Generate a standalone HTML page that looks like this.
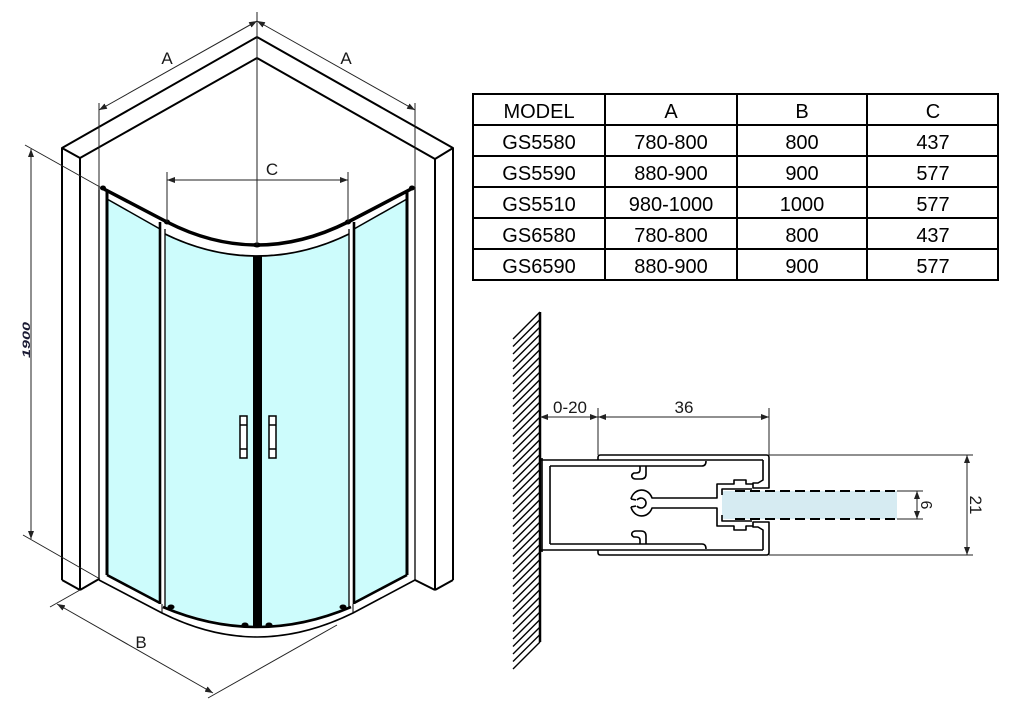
<!DOCTYPE html>
<html><head><meta charset="utf-8">
<style>
html,body{margin:0;padding:0;background:#fff;}
body{width:1024px;height:713px;overflow:hidden;position:relative;}
svg{position:absolute;left:0;top:0;}
text{font-family:"Liberation Sans",sans-serif;}
</style></head>
<body>
<svg width="1024" height="713" viewBox="0 0 1024 713" xmlns="http://www.w3.org/2000/svg">
<defs>
<marker id="ar" viewBox="0 0 8 6" refX="8" refY="3" markerWidth="8" markerHeight="6" markerUnits="userSpaceOnUse" orient="auto-start-reverse">
<path d="M0,0 L8,3 L0,6 z" fill="#222"/>
</marker>
</defs>
<rect width="1024" height="713" fill="#fff"/>

<!-- ===== Shower glass fills ===== -->
<g fill="#cdfcfc" stroke="none">
<polygon points="107,198 160,228 160,603 107,575"/>
<path d="M165,234 Q210,256 253,257 L253,626 Q210,624 165,607 Z"/>
<path d="M262,257 Q305,256 349,234 L349,607 Q305,624 262,626 Z"/>
<polygon points="354,228 407,198 407,575 354,603"/>
</g>

<!-- ===== Walls ===== -->
<g stroke="#000" stroke-width="2" fill="none" stroke-linejoin="round">
<polyline points="62,580 62,148 257,37 453,148 453,580"/>
<polyline points="80,590 80,158 257,58 435,159 435,590"/>
<line x1="62" y1="148" x2="80" y2="158"/>
<line x1="453" y1="148" x2="435" y2="159"/>
<line x1="62" y1="580" x2="80" y2="590"/>
<line x1="453" y1="580" x2="435" y2="590"/>
<line x1="80" y1="590" x2="99" y2="579"/>
<line x1="435" y1="590" x2="415" y2="580"/>
</g>

<!-- ===== Shower frame ===== -->
<g stroke="#000" fill="none" stroke-linejoin="round">
<path d="M102,188 L167,222 Q212,245 257,245 Q302,245 348,222 L413,188" stroke-width="3.5"/>
<path d="M107,199 L160,229" stroke-width="1.5"/>
<path d="M354,229 L407,199" stroke-width="1.5"/>
<path d="M165,234 Q210,256 257,256 Q304,256 349,234" stroke-width="1.8"/>
<line x1="99" y1="187" x2="99" y2="580" stroke-width="1.3"/>
<line x1="107" y1="190" x2="107" y2="575" stroke-width="3"/>
<line x1="160" y1="222" x2="160" y2="604" stroke-width="2.6"/>
<line x1="165" y1="229" x2="165" y2="607" stroke-width="1.3"/>
<line x1="349" y1="229" x2="349" y2="607" stroke-width="1.3"/>
<line x1="354" y1="222" x2="354" y2="604" stroke-width="2.6"/>
<line x1="407" y1="190" x2="407" y2="575" stroke-width="3"/>
<line x1="415" y1="187" x2="415" y2="580" stroke-width="1.3"/>
<path d="M107,575 L160,603" stroke-width="2.6"/>
<path d="M354,603 L407,575" stroke-width="2.6"/>
<path d="M163,607 Q210,627 257,627 Q304,627 351,607" stroke-width="2.6"/>
<path d="M99,580 L162,613 Q210,637 257,637 Q304,637 353,613 L415,580" stroke-width="1.6"/>
<line x1="162" y1="604" x2="162" y2="613" stroke-width="1"/>
<line x1="353" y1="604" x2="353" y2="613" stroke-width="1"/>
</g>
<rect x="253" y="256" width="9" height="371" fill="#000"/>
<g fill="#000">
<ellipse cx="171" cy="607" rx="3.5" ry="2.5"/>
<ellipse cx="245" cy="625" rx="3.5" ry="2.5"/>
<ellipse cx="269" cy="625" rx="3.5" ry="2.5"/>
<ellipse cx="343" cy="607" rx="3.5" ry="2.5"/>
<ellipse cx="103" cy="188" rx="3" ry="2.5"/>
<ellipse cx="412" cy="188" rx="3" ry="2.5"/>
<ellipse cx="167" cy="222" rx="3" ry="2.5"/>
<ellipse cx="348" cy="222" rx="3" ry="2.5"/>
<ellipse cx="257" cy="245" rx="4" ry="2.5"/>
</g>
<g stroke="#000" stroke-width="1.5" fill="#fff">
<rect x="240" y="416" width="7" height="42"/>
<line x1="240" y1="425" x2="247" y2="425"/>
<line x1="240" y1="449" x2="247" y2="449"/>
<rect x="269" y="416" width="7" height="42"/>
<line x1="269" y1="425" x2="276" y2="425"/>
<line x1="269" y1="449" x2="276" y2="449"/>
</g>

<!-- ===== Dimensions (shower) ===== -->
<g stroke="#222" stroke-width="1" fill="none">
<line x1="257" y1="12" x2="257" y2="245"/>
<line x1="99" y1="103" x2="99" y2="190"/>
<line x1="415" y1="103" x2="415" y2="190"/>
<line x1="99" y1="110" x2="257" y2="21" marker-start="url(#ar)" marker-end="url(#ar)"/>
<line x1="257" y1="21" x2="415" y2="110" marker-start="url(#ar)" marker-end="url(#ar)"/>
<line x1="167" y1="172" x2="167" y2="222"/>
<line x1="348" y1="172" x2="348" y2="222"/>
<line x1="167" y1="180" x2="348" y2="180" marker-start="url(#ar)" marker-end="url(#ar)"/>
<line x1="25" y1="145" x2="100" y2="187"/>
<line x1="23" y1="535" x2="100" y2="579"/>
<line x1="31" y1="149" x2="31" y2="539" marker-start="url(#ar)" marker-end="url(#ar)"/>
<line x1="50" y1="607" x2="80" y2="590"/>
<line x1="208" y1="698" x2="337" y2="625"/>
<line x1="57" y1="604" x2="213" y2="693" marker-start="url(#ar)" marker-end="url(#ar)"/>
</g>
<g fill="#1a1a1a" font-size="17" text-anchor="middle">
<text x="167" y="64">A</text>
<text x="346" y="64">A</text>
<text x="272" y="175">C</text>
<text x="141" y="648">B</text>
</g>
<text transform="translate(30,358) rotate(-90)" font-size="11" font-weight="bold" font-style="italic" fill="#1a1a33" textLength="36" lengthAdjust="spacingAndGlyphs">1900</text>

<!-- ===== Table ===== -->
<g stroke="#000" stroke-width="2" fill="none">
<rect x="473" y="94" width="525" height="186"/>
<line x1="473" y1="125" x2="998" y2="125"/>
<line x1="473" y1="156" x2="998" y2="156"/>
<line x1="473" y1="187" x2="998" y2="187"/>
<line x1="473" y1="218" x2="998" y2="218"/>
<line x1="473" y1="249" x2="998" y2="249"/>
<line x1="605" y1="94" x2="605" y2="280"/>
<line x1="737" y1="94" x2="737" y2="280"/>
<line x1="867" y1="94" x2="867" y2="280"/>
</g>
<g fill="#000" font-size="20" text-anchor="middle">
<text x="539" y="118">MODEL</text><text x="671" y="118">A</text><text x="802" y="118">B</text><text x="933" y="118">C</text>
<text x="539" y="149">GS5580</text><text x="671" y="149">780-800</text><text x="802" y="149">800</text><text x="933" y="149">437</text>
<text x="539" y="180">GS5590</text><text x="671" y="180">880-900</text><text x="802" y="180">900</text><text x="933" y="180">577</text>
<text x="539" y="211">GS5510</text><text x="671" y="211">980-1000</text><text x="802" y="211">1000</text><text x="933" y="211">577</text>
<text x="539" y="242">GS6580</text><text x="671" y="242">780-800</text><text x="802" y="242">800</text><text x="933" y="242">437</text>
<text x="539" y="273">GS6590</text><text x="671" y="273">880-900</text><text x="802" y="273">900</text><text x="933" y="273">577</text>
</g>

<!-- ===== Profile detail ===== -->
<path stroke="#000" stroke-width="1.4" fill="none" d="M540,312l-27,27M540,319.5l-27,27M540,327l-27,27M540,334.5l-27,27M540,342l-27,27M540,349.5l-27,27M540,357l-27,27M540,364.5l-27,27M540,372l-27,27M540,379.5l-27,27M540,387l-27,27M540,394.5l-27,27M540,402l-27,27M540,409.5l-27,27M540,417l-27,27M540,424.5l-27,27M540,432l-27,27M540,439.5l-27,27M540,447l-27,27M540,454.5l-27,27M540,462l-27,27M540,469.5l-27,27M540,477l-27,27M540,484.5l-27,27M540,492l-27,27M540,499.5l-27,27M540,507l-27,27M540,514.5l-27,27M540,522l-27,27M540,529.5l-27,27M540,537l-27,27M540,544.5l-27,27M540,552l-27,27M540,559.5l-27,27M540,567l-27,27M540,574.5l-27,27M540,582l-27,27M540,589.5l-27,27M540,597l-27,27M540,604.5l-27,27M540,612l-27,27M540,619.5l-27,27M540,627l-27,27M540,634.5l-27,27M540,642l-27,27"/>
<line x1="540" y1="312" x2="540" y2="642" stroke="#000" stroke-width="2.5"/>

<path d="M725,491 L897,491 L897,519 L725,519 Q722,519 722,516 L722,494 Q722,491 725,491 Z" fill="#d6ebf2"/>
<g stroke="#000" stroke-width="2" stroke-dasharray="10,5" fill="none">
<line x1="735" y1="491" x2="897" y2="491"/>
<line x1="735" y1="519" x2="897" y2="519"/>
</g>

<g stroke="#000" stroke-width="1.6" fill="none" stroke-linejoin="round">
<path d="M598,460 L598,457.5 Q598,455 600.5,455 L766.5,455 Q769,455 769,457.5 L769,488 L753,488 L753,483 L758,483 L763,480 L763,460"/>
<path d="M598,550 L598,552.5 Q598,555 600.5,555 L766.5,555 Q769,555 769,552.5 L769,522 L753,522 L753,527 L758,527 L763,530 L763,550"/>
<line x1="541" y1="460" x2="763" y2="460"/>
<line x1="541" y1="550" x2="763" y2="550"/>
<line x1="542" y1="458" x2="542" y2="552"/>
<line x1="550" y1="466" x2="550" y2="544"/>
<path d="M550,466 L702,466 Q706,466 706,461"/>
<path d="M550,544 L702,544 Q706,544 706,549"/>
<path d="M640,466 L640,470 Q640,473 636,473 L634,473 Q631,474.5 632,477 Q633,479 636,479 L641,479 Q646,479 646,474 L646,466"/>
<path d="M640,544 L640,540 Q640,537 636,537 L634,537 Q631,535.5 632,533 Q633,531 636,531 L641,531 Q646,531 646,536 L646,544"/>
<path d="M631,499 A11,12 0 0 1 652,498 L717,498 L717,484 L734,484 L734,480 L746,480 L746,484 L753,484"/>
<path d="M631,507 A11,12 0 0 0 652,508 L717,508 L717,526 L734,526 L734,530 L746,530 L746,526 L753,526"/>
<path d="M631,499 L636,500 M631,507 L636,506"/>
<path d="M637,500 A5,5 0 1 1 637,506"/>
<path d="M722,495 L722,489 L752,489"/>
<path d="M722,515 L722,521 L752,521"/>
</g>

<g stroke="#222" stroke-width="1" fill="none">
<line x1="598" y1="408" x2="598" y2="455"/>
<line x1="769" y1="408" x2="769" y2="455"/>
<line x1="540" y1="417" x2="598" y2="417" marker-start="url(#ar)" marker-end="url(#ar)"/>
<line x1="598" y1="417" x2="769" y2="417" marker-start="url(#ar)" marker-end="url(#ar)"/>
<line x1="769" y1="455" x2="973" y2="455"/>
<line x1="769" y1="555" x2="973" y2="555"/>
<line x1="967" y1="455" x2="967" y2="555" marker-start="url(#ar)" marker-end="url(#ar)"/>
<line x1="897" y1="491" x2="923" y2="491"/>
<line x1="897" y1="519" x2="923" y2="519"/>
<line x1="917" y1="491" x2="917" y2="519" marker-start="url(#ar)" marker-end="url(#ar)"/>
</g>
<g fill="#1a1a1a" font-size="17" text-anchor="middle">
<text x="570" y="413">0-20</text>
<text x="684" y="413">36</text>
</g>
<text transform="translate(970,505) rotate(90)" text-anchor="middle" font-size="17" fill="#1a1a1a">21</text>
<text transform="translate(921,505) rotate(90)" text-anchor="middle" font-size="16" fill="#1a1a1a">6</text>
</svg>
</body></html>
